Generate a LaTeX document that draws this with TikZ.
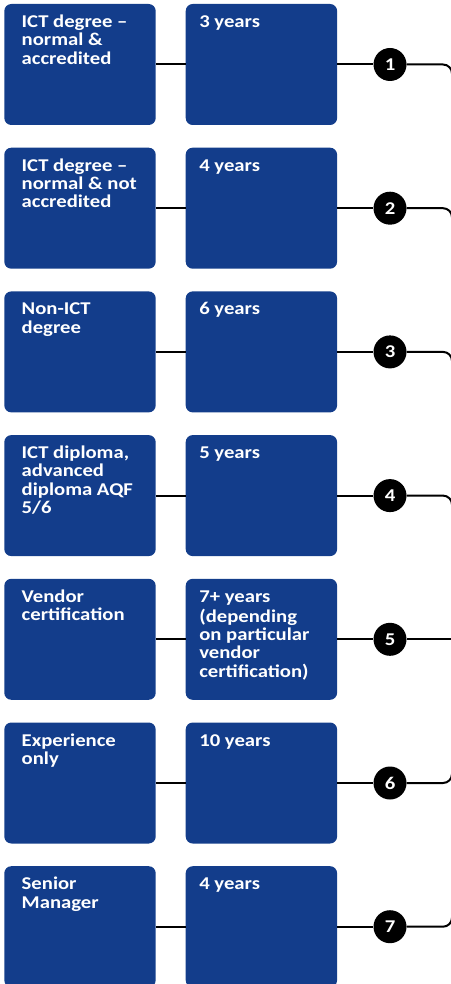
\documentclass[tikz,border=0pt]{standalone}
\usepackage{fontspec}
\setmainfont{Carlito}[FakeStretch=1.15]
\definecolor{ictblue}{RGB}{19,61,139}

\begin{document}
\begin{tikzpicture}[x=1pt,y=1pt,
  box/.style={rectangle,rounded corners=7pt,fill=ictblue,minimum width=151.4pt,minimum height=121pt,inner sep=0pt},
  txt/.style={anchor=north west,inner sep=0pt,align=left,text=white,font=\fontsize{18}{18.3}\selectfont\bfseries},
  num/.style={circle,fill=black,text=white,minimum size=33pt,inner sep=0pt,font=\fontsize{18}{18}\selectfont\bfseries},
  wire/.style={line width=2pt,black},
  turnwire/.style={wire,rounded corners=9pt}]
\useasboundingbox (0,0) rectangle (450,-984);
% row 1
\node[box] (d1) at (80,-64.5) {};
\node[box] (y1) at (261.4,-64.5) {};
\node[num] (n1) at (390,-64.5) {1};
\node[txt] (d1t) at ([shift={(17.4,-10.7)}]d1.north west) {\strut ICT degree –\\normal \&\\accredited};
\node[txt] (y1t) at ([shift={(13.6,-10.7)}]y1.north west) {\strut 3 years};
\coordinate (e1) at (452,-90);
\draw[wire] (d1) -- (y1);
\draw[wire] (y1) -- (n1);
\draw[turnwire] (n1) -| (e1);
% row 2
\node[box] (d2) at (80,-208.2) {};
\node[box] (y2) at (261.4,-208.2) {};
\node[num] (n2) at (390,-208.2) {2};
\node[txt] (d2t) at ([shift={(17.4,-10.7)}]d2.north west) {\strut ICT degree –\\normal \& not\\accredited};
\node[txt] (y2t) at ([shift={(13.6,-10.7)}]y2.north west) {\strut 4 years};
\coordinate (e2) at (452,-233.7);
\draw[wire] (d2) -- (y2);
\draw[wire] (y2) -- (n2);
\draw[turnwire] (n2) -| (e2);
% row 3
\node[box] (d3) at (80,-351.9) {};
\node[box] (y3) at (261.4,-351.9) {};
\node[num] (n3) at (390,-351.9) {3};
\node[txt] (d3t) at ([shift={(17.4,-10.7)}]d3.north west) {\strut Non-ICT\\degree};
\node[txt] (y3t) at ([shift={(13.6,-10.7)}]y3.north west) {\strut 6 years};
\coordinate (e3) at (452,-377.4);
\draw[wire] (d3) -- (y3);
\draw[wire] (y3) -- (n3);
\draw[turnwire] (n3) -| (e3);
% row 4
\node[box] (d4) at (80,-495.6) {};
\node[box] (y4) at (261.4,-495.6) {};
\node[num] (n4) at (390,-495.6) {4};
\node[txt] (d4t) at ([shift={(17.4,-10.7)}]d4.north west) {\strut ICT diploma,\\advanced\\diploma AQF\\5/6};
\node[txt] (y4t) at ([shift={(13.6,-10.7)}]y4.north west) {\strut 5 years};
\coordinate (e4) at (452,-521.1);
\draw[wire] (d4) -- (y4);
\draw[wire] (y4) -- (n4);
\draw[turnwire] (n4) -| (e4);
% row 5
\node[box] (d5) at (80,-639.3) {};
\node[box] (y5) at (261.4,-639.3) {};
\node[num] (n5) at (390,-639.3) {5};
\node[txt] (d5t) at ([shift={(17.4,-10.7)}]d5.north west) {\strut Vendor\\certification};
\node[txt] (y5t) at ([shift={(13.6,-10.7)}]y5.north west) {\strut 7+ years\\(depending\\on particular\\vendor\\certification)};
\coordinate (e5) at (452,-639.3);
\draw[wire] (d5) -- (y5);
\draw[wire] (y5) -- (n5);
\draw[wire] (n5) -- (e5);
% row 6
\node[box] (d6) at (80,-783) {};
\node[box] (y6) at (261.4,-783) {};
\node[num] (n6) at (390,-783) {6};
\node[txt] (d6t) at ([shift={(17.4,-10.7)}]d6.north west) {\strut Experience\\only};
\node[txt] (y6t) at ([shift={(13.6,-10.7)}]y6.north west) {\strut 10 years};
\coordinate (e6) at (452,-757.5);
\draw[wire] (d6) -- (y6);
\draw[wire] (y6) -- (n6);
\draw[turnwire] (n6) -| (e6);
% row 7
\node[box] (d7) at (80,-926.7) {};
\node[box] (y7) at (261.4,-926.7) {};
\node[num] (n7) at (390,-926.7) {7};
\node[txt] (d7t) at ([shift={(17.4,-10.7)}]d7.north west) {\strut Senior\\Manager};
\node[txt] (y7t) at ([shift={(13.6,-10.7)}]y7.north west) {\strut 4 years};
\coordinate (e7) at (452,-901.2);
\draw[wire] (d7) -- (y7);
\draw[wire] (y7) -- (n7);
\draw[turnwire] (n7) -| (e7);
\end{tikzpicture}
\end{document}
